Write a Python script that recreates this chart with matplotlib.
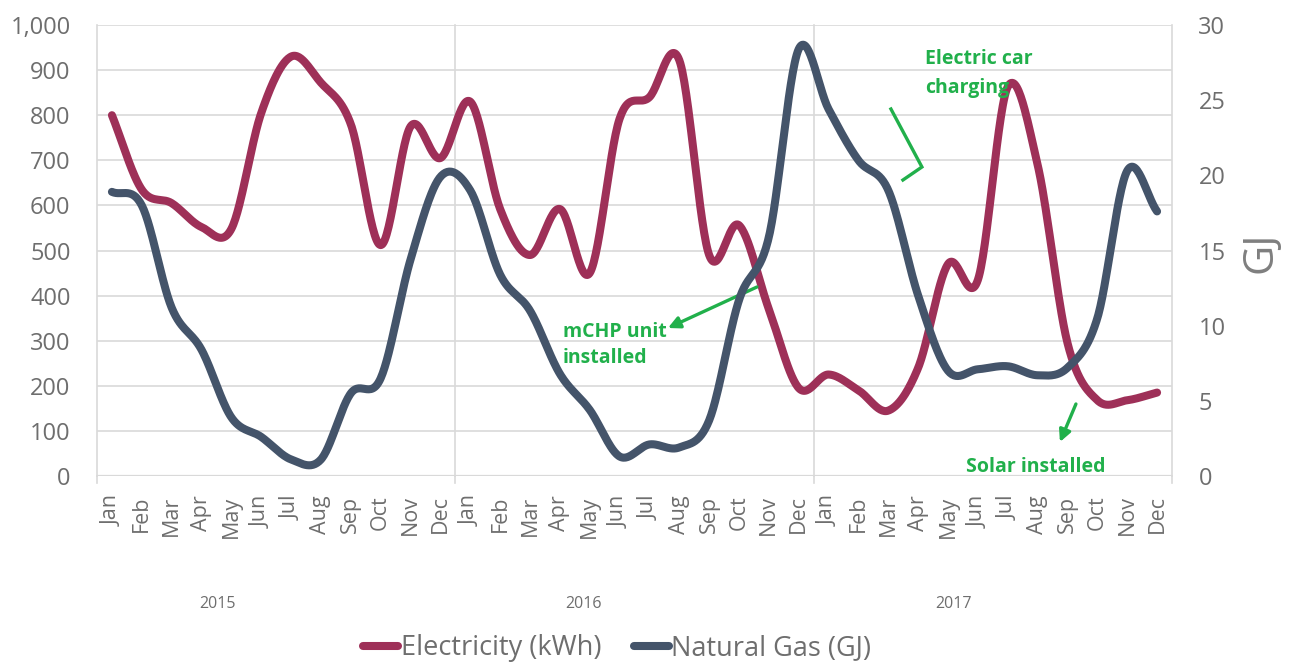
import numpy as np
import matplotlib
matplotlib.use("Agg")
import matplotlib.pyplot as plt
from matplotlib.lines import Line2D

# ---------------- data ----------------
months = ["Jan", "Feb", "Mar", "Apr", "May", "Jun",
          "Jul", "Aug", "Sep", "Oct", "Nov", "Dec"]
years = ["2015", "2016", "2017"]

electricity_kwh = [800, 635, 605, 552, 548, 805, 930, 872, 780, 512, 775, 705,
                   830, 592, 490, 592, 450, 792, 840, 922, 490, 556, 370, 195,
                   225, 190, 145, 240, 470, 435, 863, 690, 295, 168, 168, 185]

natural_gas_gj = [18.9, 18.0, 11.2, 8.4, 3.9, 2.6, 1.1, 1.1, 5.5, 6.5, 14.4, 19.9,
                  19.0, 13.4, 11.0, 6.8, 4.4, 1.3, 2.1, 1.9, 3.7, 11.7, 15.9, 28.4,
                  24.4, 21.0, 19.0, 12.0, 7.0, 7.1, 7.3, 6.7, 7.2, 10.5, 20.3, 17.6]

left_ticks = list(range(0, 1001, 100))
right_ticks = list(range(0, 31, 5))

# ---------------- style ----------------
C_ELEC = "#9E3058"
C_GAS = "#44546A"
C_GREEN = "#21B04B"
C_TXT = "#6E6E6E"
C_GRID = "#D9D9D9"
FONT = ["Open Sans", "DejaVu Sans"]
plt.rcParams["font.family"] = FONT

W, H = 1291, 662
fig = plt.figure(figsize=(W / 100, H / 100), dpi=100)
ax_l, ax_r, ax_b, ax_t = 97, 1172, 476, 25
ax = fig.add_axes([ax_l / W, 1 - ax_b / H, (ax_r - ax_l) / W, (ax_b - ax_t) / H])
ax2 = ax.twinx()


def catmull_rom(y, n=30):
    """Excel-like smoothing: uniform Catmull-Rom through the points."""
    y = np.asarray(y, float)
    x = np.arange(len(y), dtype=float)
    P = np.column_stack([x, y])
    P = np.vstack([2 * P[0] - P[1], P, 2 * P[-1] - P[-2]])
    out = []
    t = np.linspace(0, 1, n, endpoint=False)[:, None]
    for i in range(1, len(P) - 2):
        p0, p1, p2, p3 = P[i - 1], P[i], P[i + 1], P[i + 2]
        c1 = p1 + (p2 - p0) / 6
        c2 = p2 - (p3 - p1) / 6
        seg = ((1 - t) ** 3) * p1 + 3 * ((1 - t) ** 2) * t * c1 + 3 * (1 - t) * t ** 2 * c2 + t ** 3 * p2
        out.append(seg)
    out.append(P[-2][None, :])
    out = np.vstack(out)
    return out[:, 0], out[:, 1]


n = len(electricity_kwh)
xe, ye = catmull_rom(electricity_kwh)
xg, yg = catmull_rom(natural_gas_gj)

LW = 5.8
ax.plot(xe, ye, color=C_ELEC, lw=LW, solid_capstyle="round", solid_joinstyle="round", zorder=3)
ax2.plot(xg, yg, color=C_GAS, lw=LW, solid_capstyle="round", solid_joinstyle="round", zorder=3)

# axes limits / ticks
ax.set_xlim(-0.5, n - 0.5)
ax.set_ylim(0, 1000)
ax2.set_ylim(0, 30)
ax.set_yticks(left_ticks)
ax.set_yticklabels([f"{v:,}" for v in left_ticks])
ax2.set_yticks(right_ticks)
ax2.set_yticklabels([str(v) for v in right_ticks])

for a in (ax, ax2):
    for s in a.spines.values():
        s.set_visible(False)
    a.tick_params(axis="y", length=0, labelsize=17, labelcolor=C_TXT, pad=19)

ax.yaxis.grid(True, color=C_GRID, lw=1.2)
ax.set_axisbelow(True)

# month labels
ax.set_xticks(range(n))
ax.set_xticklabels(months * len(years), rotation=90, fontsize=15.5, color=C_TXT, va="top")
ax.tick_params(axis="x", length=0, pad=14)

# vertical separators (edges and year boundaries)
for b in range(0, n + 1, 12):
    ax.plot([b - 0.5, b - 0.5], [0, 1000], color=C_GRID, lw=1.2, zorder=1, clip_on=False)
    ax.plot([b - 0.5, b - 0.5], [0, -16], color=C_GRID, lw=1.2, zorder=1, clip_on=False)
ax.axhline(0, color=C_GRID, lw=1.6, zorder=1)

# year labels
for yr, px in zip(years, [218, 583, 953]):
    fig.text(px / W, 1 - 604 / H, yr, ha="center", va="center", fontsize=11.5, color=C_TXT)

# right axis label
fig.text(1261 / W, 1 - 252 / H, "GJ", rotation=90, ha="center", va="center",
         fontsize=30, color="#7F7F7F")

# ---------------- annotations ----------------
def px2d(px, py):
    return (px - 112) / ((ax_r - ax_l) / n), (ax_b - py) / ((ax_b - ax_t) / 1000)

AFS = 14
for txt, (px, py) in [("mCHP unit", (563, 337)), ("installed", (563, 363)),
                      ("Electric car", (925, 64)), ("charging", (925, 93)),
                      ("Solar installed", (966, 472))]:
    x, y = px2d(px, py)
    ax.text(x, y, txt, color=C_GREEN, fontsize=AFS, fontweight="bold",
            ha="left", va="baseline", zorder=5, clip_on=False)

ax.annotate("", xy=px2d(668, 328), xytext=px2d(757, 287),
            arrowprops=dict(arrowstyle="-|>,head_length=0.7,head_width=0.35",
                            color=C_GREEN, lw=2.4, shrinkA=0, shrinkB=0), zorder=5)
ax.annotate("", xy=px2d(1060, 442), xytext=px2d(1076, 404),
            arrowprops=dict(arrowstyle="-|>,head_length=0.7,head_width=0.35",
                            color=C_GREEN, lw=2.4, shrinkA=0, shrinkB=0), zorder=5)
pts = np.array([px2d(891, 109), px2d(922, 167), px2d(903, 180)])
ax.plot(pts[:, 0], pts[:, 1], color=C_GREEN, lw=2.4, zorder=5, solid_joinstyle="miter")

# ---------------- legend ----------------
handles = [Line2D([], [], color=C_ELEC, lw=LW, solid_capstyle="round"),
           Line2D([], [], color=C_GAS, lw=LW, solid_capstyle="round")]
fig.legend(handles, ["Electricity (kWh)", "Natural Gas (GJ)"], loc="center",
           bbox_to_anchor=(617 / W, 1 - 648 / H), ncol=2, frameon=False,
           fontsize=19.5, labelcolor=C_TXT, handlelength=1.3, handletextpad=0.1,
           columnspacing=1.2, borderpad=0)

fig.savefig("out.png", dpi=100)
